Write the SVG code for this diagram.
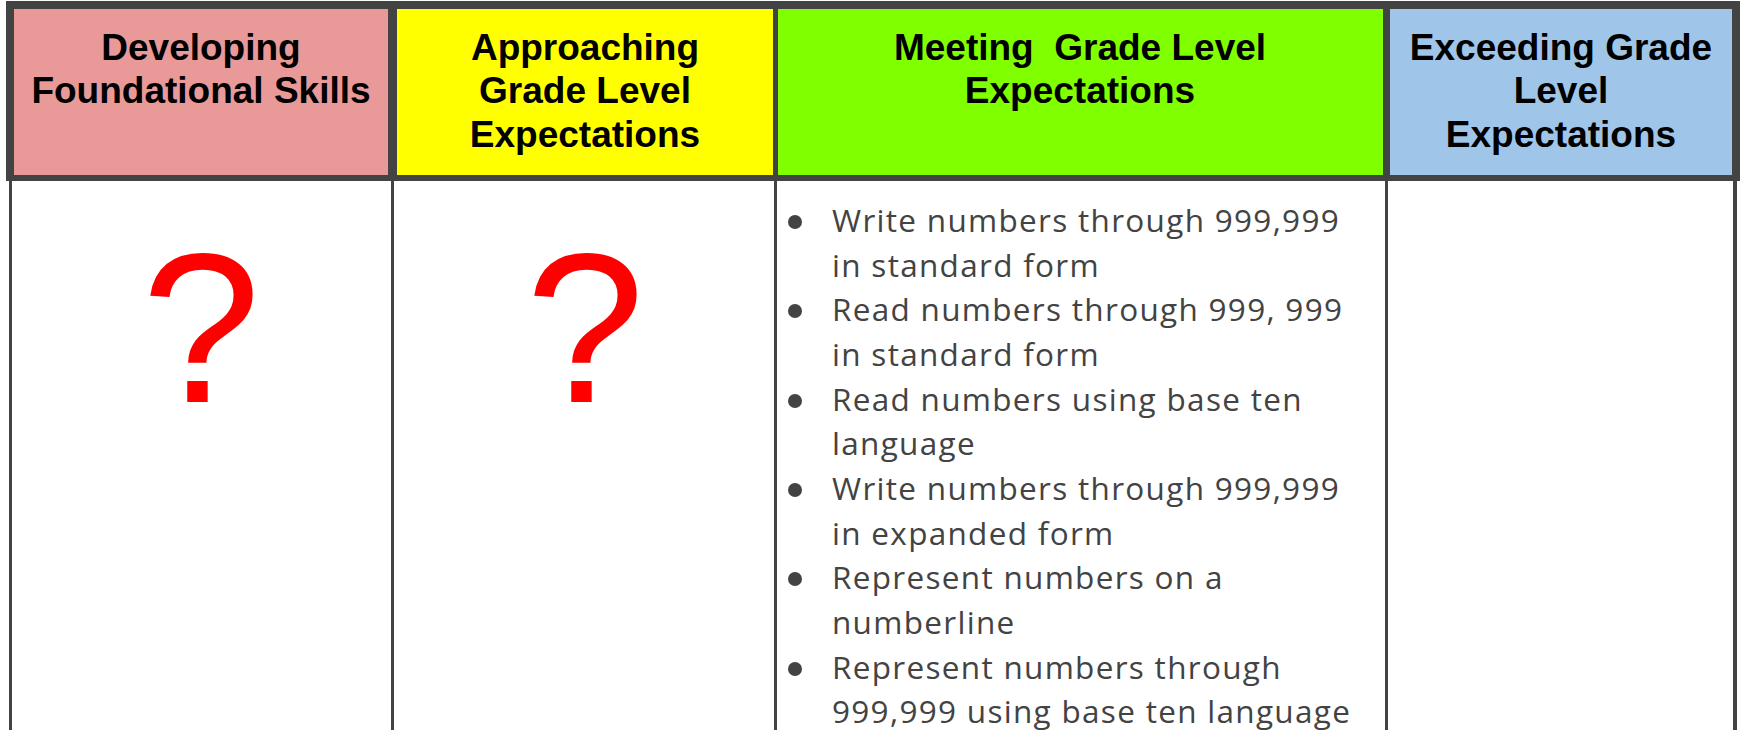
<svg xmlns="http://www.w3.org/2000/svg" width="1743" height="730" viewBox="0 0 1743 730">
<style>
.hd{font-family:"Liberation Sans",Arial,sans-serif;font-weight:bold;font-size:37px;fill:#000;text-anchor:middle}
.q{font-family:"Liberation Sans",Arial,sans-serif;font-size:214px;fill:#ff0000;text-anchor:middle}
.bt{font-family:"Open Sans",sans-serif;font-size:31.5px;letter-spacing:1.3px;fill:#434343}
.ln{fill:#434343}
</style>
<rect width="1743" height="730" fill="#ffffff"/>
<g id="header-developing">
<rect x="14" y="9" width="374" height="166" fill="#ea9999"/>
<text class="hd" x="201" y="60">Developing</text>
<text class="hd" x="201" y="103">Foundational Skills</text>
</g>
<g id="header-approaching">
<rect x="397" y="9" width="376" height="166" fill="#ffff00"/>
<text class="hd" x="585" y="60">Approaching</text>
<text class="hd" x="585" y="103">Grade Level</text>
<text class="hd" x="585" y="147">Expectations</text>
</g>
<g id="header-meeting">
<rect x="778" y="9" width="605" height="166" fill="#80ff00"/>
<text class="hd" x="1080" y="60" xml:space="preserve">Meeting  Grade Level</text>
<text class="hd" x="1080" y="103">Expectations</text>
</g>
<g id="header-exceeding">
<rect x="1390" y="9" width="342" height="166" fill="#9fc5e8"/>
<text class="hd" x="1561" y="60">Exceeding Grade</text>
<text class="hd" x="1561" y="103">Level</text>
<text class="hd" x="1561" y="147">Expectations</text>
</g>
<g id="grid">
<rect class="ln" x="6" y="1" width="1734" height="8"/>
<rect class="ln" x="6" y="175" width="1734" height="6"/>
<rect class="ln" x="6" y="1" width="8" height="180"/>
<rect class="ln" x="388" y="1" width="9" height="180"/>
<rect class="ln" x="773" y="1" width="5" height="180"/>
<rect class="ln" x="1383" y="1" width="7" height="180"/>
<rect class="ln" x="1732" y="1" width="8" height="180"/>
<rect class="ln" x="9" y="181" width="3" height="549"/>
<rect class="ln" x="391" y="181" width="3" height="549"/>
<rect class="ln" x="774" y="181" width="3" height="549"/>
<rect class="ln" x="1385" y="181" width="3" height="549"/>
<rect class="ln" x="1733" y="181" width="4" height="549"/>
</g>
<g id="cell-developing">
<text class="q" x="201" y="402">?</text>
</g>
<g id="cell-approaching">
<text class="q" x="585" y="402">?</text>
</g>
<g id="cell-meeting">
<circle class="ln" cx="795" cy="222" r="7"/>
<circle class="ln" cx="795" cy="311" r="7"/>
<circle class="ln" cx="795" cy="401" r="7"/>
<circle class="ln" cx="795" cy="490" r="7"/>
<circle class="ln" cx="795" cy="579" r="7"/>
<circle class="ln" cx="795" cy="669" r="7"/>
<text class="bt" x="832" y="232">Write numbers through 999,999</text>
<text class="bt" x="832" y="277">in standard form</text>
<text class="bt" x="832" y="321">Read numbers through 999, 999</text>
<text class="bt" x="832" y="366">in standard form</text>
<text class="bt" x="832" y="411">Read numbers using base ten</text>
<text class="bt" x="832" y="455">language</text>
<text class="bt" x="832" y="500">Write numbers through 999,999</text>
<text class="bt" x="832" y="545">in expanded form</text>
<text class="bt" x="832" y="589">Represent numbers on a</text>
<text class="bt" x="832" y="634">numberline</text>
<text class="bt" x="832" y="679">Represent numbers through</text>
<text class="bt" x="832" y="723">999,999 using base ten language</text>
</g>
<g id="cell-exceeding"></g>
</svg>
